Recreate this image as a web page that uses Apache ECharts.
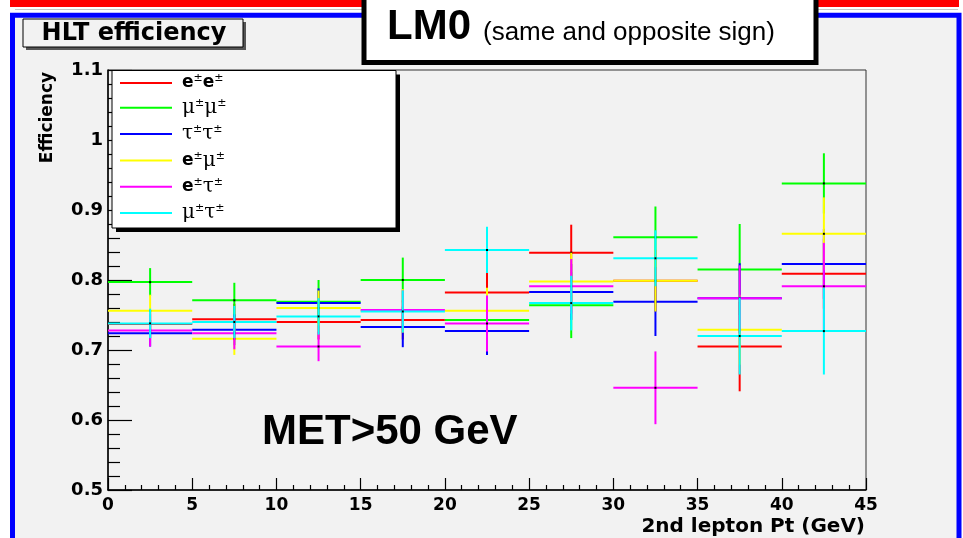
<!DOCTYPE html>
<html>
<head>
<meta charset="utf-8">
<script src="https://cdn.jsdelivr.net/npm/echarts@6.0.0/dist/echarts.min.js"></script>
<style>
  html, body { margin: 0; padding: 0; background: #ffffff; }
  #chart { width: 963px; height: 538px; }
</style>
</head>
<body>
<div id="chart"></div>
<script>
// Bin edges of the 2nd lepton Pt histogram (GeV)
const binEdges = [0, 5, 10, 15, 20, 25, 30, 35, 40, 45];

// Channel names, drawn in this order (last one on top)
const channelNames = ['e±e±', 'μ±μ±', 'τ±τ±', 'e±μ±', 'e±τ±', 'μ±τ±'];
const channelColors = ['#ff0000', '#00ff00', '#0000ff', '#ffff00', '#ff00ff', '#00ffff'];

// HLT efficiency per bin and its uncertainty
const eeEff      = [0.737, 0.744, 0.740, 0.743, 0.782, 0.839, 0.799, 0.705, 0.809];
const eeErr      = [0.020, 0.022, 0.025, 0.028, 0.030, 0.040, 0.044, 0.064, 0.050];
const mumuEff    = [0.797, 0.771, 0.769, 0.800, 0.743, 0.764, 0.861, 0.815, 0.938];
const mumuErr    = [0.020, 0.025, 0.031, 0.032, 0.030, 0.047, 0.044, 0.065, 0.043];
const tautauEff  = [0.724, 0.729, 0.767, 0.733, 0.727, 0.783, 0.769, 0.774, 0.823];
const tautauErr  = [0.019, 0.022, 0.021, 0.029, 0.034, 0.040, 0.049, 0.050, 0.050];
const emuEff     = [0.756, 0.716, 0.760, 0.756, 0.756, 0.798, 0.799, 0.729, 0.866];
const emuErr     = [0.023, 0.023, 0.025, 0.031, 0.033, 0.041, 0.044, 0.050, 0.052];
const etauEff    = [0.728, 0.724, 0.705, 0.757, 0.738, 0.791, 0.646, 0.774, 0.791];
const etauErr    = [0.023, 0.023, 0.021, 0.028, 0.040, 0.039, 0.052, 0.047, 0.062];
const mutauEff   = [0.738, 0.740, 0.748, 0.755, 0.843, 0.767, 0.831, 0.720, 0.727];
const mutauErr   = [0.021, 0.023, 0.026, 0.030, 0.033, 0.039, 0.040, 0.055, 0.062];

const effByChannel = [eeEff, mumuEff, tautauEff, emuEff, etauEff, mutauEff];
const errByChannel = [eeErr, mumuErr, tautauErr, emuErr, etauErr, mutauErr];

// Axis ranges
const xMin = 0, xMax = 45, xStep = 5;
const yMin = 0.5, yMax = 1.1, yStep = 0.1;

const rootFont = '"DejaVu Sans", sans-serif';
const slideFont = '"Liberation Sans", Arial, sans-serif';

// Horizontal bar spanning the bin, vertical bar spanning the error, dot at the centre
function renderCross(params, api) {
  const lo = api.value(0), hi = api.value(1), v = api.value(2), e = api.value(3);
  const mid = (lo + hi) / 2;
  const a = api.coord([lo, v]);
  const b = api.coord([hi, v]);
  const t = api.coord([mid, v + e]);
  const u = api.coord([mid, v - e]);
  const c = api.coord([mid, v]);
  const col = api.visual('color');
  return {
    type: 'group',
    children: [
      { type: 'line', shape: { x1: a[0], y1: a[1], x2: b[0], y2: b[1] }, style: { stroke: col, lineWidth: 2 } },
      { type: 'line', shape: { x1: t[0], y1: t[1], x2: u[0], y2: u[1] }, style: { stroke: col, lineWidth: 2 } },
      { type: 'rect', shape: { x: c[0] - 1, y: c[1] - 1, width: 2, height: 2 }, style: { fill: '#000000' } }
    ]
  };
}

const series = channelNames.map((name, k) => ({
  name: name,
  type: 'custom',
  renderItem: renderCross,
  itemStyle: { color: channelColors[k] },
  encode: { x: [0, 1], y: [2] },
  data: binEdges.slice(0, -1).map((lo, i) => [lo, binEdges[i + 1], effByChannel[k][i], errByChannel[k][i]]),
  z: 2
}));

// Legend labels: bold latin letters, serif greek letters, raised ± signs
function legendLabel(name) {
  return name.split('').map(ch => {
    if (ch === '±') return '{s|±}';
    if (ch === 'e') return '{e|e}';
    return '{g|' + ch + '}';
  }).join('');
}

function txt(x, y, text, font, align) {
  const a = align || 'left';
  return {
    type: 'text', x: x, y: y, z: 30,
    style: {
      text: text, font: font, fill: '#000000',
      align: a, verticalAlign: 'middle',
      textAlign: a, textVerticalAlign: 'middle'
    }
  };
}

const chart = echarts.init(document.getElementById('chart'), null, { renderer: 'canvas' });

chart.setOption({
  animation: false,
  backgroundColor: '#ffffff',
  grid: {
    left: 108, right: 97, top: 70, bottom: 48,
    show: true, borderColor: '#333333', borderWidth: 1, backgroundColor: 'transparent'
  },
  xAxis: {
    type: 'value', min: xMin, max: xMax, interval: xStep,
    name: '2nd lepton Pt (GeV)',
    nameLocation: 'end', nameGap: -1,
    nameTextStyle: {
      fontFamily: rootFont, fontWeight: 'bold', fontSize: 20, color: '#000',
      align: 'right', verticalAlign: 'top', padding: [27, 0, 0, 0]
    },
    axisLine: { show: true, lineStyle: { color: '#000', width: 1.5 } },
    axisTick: { show: true, inside: true, length: 12, lineStyle: { color: '#000', width: 1.2 } },
    minorTick: { show: true, splitNumber: 5, length: 5, lineStyle: { color: '#000', width: 1.2 } },
    splitLine: { show: false },
    axisLabel: { fontFamily: rootFont, fontWeight: 'bold', fontSize: 17, color: '#000', margin: 7 }
  },
  yAxis: {
    type: 'value', min: yMin, max: yMax, interval: yStep,
    axisLine: { show: true, lineStyle: { color: '#000', width: 1.5 } },
    axisTick: { show: true, inside: true, length: 24, lineStyle: { color: '#000', width: 1.2 } },
    minorTick: { show: true, splitNumber: 5, length: 12, lineStyle: { color: '#000', width: 1.2 } },
    splitLine: { show: false },
    axisLabel: {
      fontFamily: rootFont, fontWeight: 'bold', fontSize: 18, color: '#000', margin: 5,
      padding: [4, 0, 0, 0],
      formatter: v => String(+(+v).toFixed(2))
    }
  },
  legend: {
    orient: 'vertical',
    left: 120, top: 73,
    padding: 0,
    itemWidth: 52, itemHeight: 2, itemGap: 6.3,
    icon: 'rect',
    selectedMode: false,
    z: 20,
    data: channelNames,
    formatter: legendLabel,
    textStyle: {
      padding: [0, 0, 0, 5],
      color: '#000',
      rich: {
        e: { fontFamily: rootFont, fontWeight: 'bold', fontSize: 17, lineHeight: 20, color: '#000' },
        g: { fontFamily: '"DejaVu Serif", serif', fontSize: 20, lineHeight: 20, color: '#000' },
        s: { fontFamily: rootFont, fontSize: 11, lineHeight: 10, verticalAlign: 'top', color: '#000' }
      }
    }
  },
  graphic: {
    elements: [
      // page frame
      { type: 'rect', z: -5, shape: { x: 10, y: 0, width: 949, height: 7 }, style: { fill: '#ff0000' } },
      { type: 'line', z: -5, shape: { x1: 15, y1: 9.5, x2: 958, y2: 9.5 }, style: { stroke: '#c8c8c8', lineWidth: 1 } },
      { type: 'rect', z: -5, shape: { x: 12.5, y: 15.3, width: 946.5, height: 540 },
        style: { fill: '#f2f2f2', stroke: '#0000ff', lineWidth: 5 } },

      // histogram title box
      { type: 'rect', z: 10, shape: { x: 26, y: 22, width: 220, height: 28 }, style: { fill: '#555555' } },
      { type: 'rect', z: 11, shape: { x: 23, y: 19, width: 220, height: 28 },
        style: { fill: '#f2f2f2', stroke: '#000000', lineWidth: 1 } },
      txt(134, 34, 'HLT efficiency', 'bold 24px ' + rootFont, 'center'),

      // sample label box
      { type: 'rect', z: 10, shape: { x: 364, y: -10, width: 452, height: 72.5 },
        style: { fill: '#ffffff', stroke: '#000000', lineWidth: 5 } },
      txt(387, 27, 'LM0', 'bold 42px ' + slideFont),
      txt(483, 33, '(same and opposite sign)', '26px ' + slideFont),

      // legend frame with drop shadow
      { type: 'rect', z: 10, shape: { x: 116, y: 74.5, width: 284, height: 157.5 }, style: { fill: '#000000' } },
      { type: 'rect', z: 11, shape: { x: 112, y: 70.5, width: 284, height: 157.5 },
        style: { fill: '#ffffff', stroke: '#000000', lineWidth: 1 } },

      // y axis title
      { type: 'text', z: 30, x: 47.5, y: 117.5, rotation: Math.PI / 2,
        style: { text: 'Efficiency', font: 'bold 17px ' + rootFont, fill: '#000',
                 align: 'center', verticalAlign: 'middle', textAlign: 'center', textVerticalAlign: 'middle' } },

      // selection note
      txt(262, 432, 'MET>50 GeV', 'bold 42px ' + slideFont)
    ]
  },
  series: series
});
</script>
</body>
</html>
